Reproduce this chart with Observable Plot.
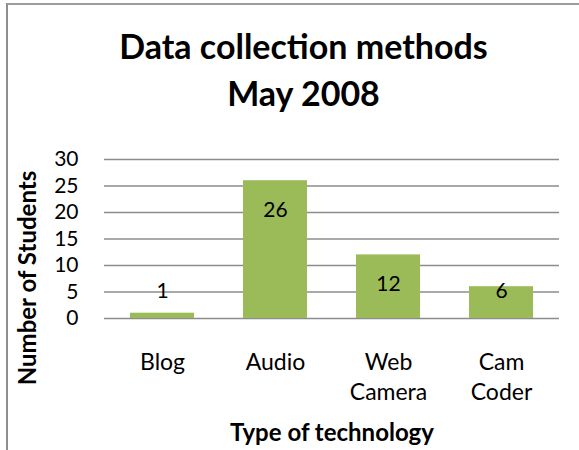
<!DOCTYPE html>
<html>
<head>
<meta charset="utf-8">
<script src="https://cdn.jsdelivr.net/npm/d3@7"></script>
<script src="https://cdn.jsdelivr.net/npm/@observablehq/plot@0.6"></script>
<style>
  html, body { margin: 0; padding: 0; background: #fff; }
  #wrap { position: relative; width: 579px; height: 450px; overflow: hidden; font-family: Lato, "DejaVu Sans", sans-serif; }
  #frame { position: absolute; left: 6px; top: 3px; width: 700px; height: 600px;
           border-left: 2px solid #8e8e8e; border-top: 2px solid #9c9c9c; box-sizing: border-box; }
  #title { position: absolute; left: 0; top: 21.6px; width: 607px; text-align: center;
           font-weight: bold; font-size: 34px; line-height: 47px; color: #000; }
  #plot { position: absolute; left: 0; top: 0; }
</style>
</head>
<body>
<div id="wrap">
  <div id="frame"></div>
  <div id="title"></div>
  <div id="plot"></div>
</div>
<script>
const titleLines = ["Data collection methods", "May 2008"];
const categories = ["Blog", "Audio", "Web Camera", "Cam Coder"];
const tickLabels = ["Blog", "Audio", "Web\nCamera", "Cam\nCoder"];
const students = [1, 26, 12, 6];
const yTicks = [0, 5, 10, 15, 20, 25, 30];
const yTitle = "Number of Students";
const xTitle = "Type of technology";

const data = categories.map((c, i) => ({category: c, label: tickLabels[i], value: students[i]}));

document.getElementById("title").innerHTML = titleLines.join("<br>");

const gridColor = "#8c8c8c";

const chart = Plot.plot({
  width: 579,
  height: 450,
  marginTop: 159,
  marginBottom: 132,
  marginLeft: 104,
  marginRight: 20,
  style: {fontFamily: "Lato, 'DejaVu Sans', sans-serif", fontSize: "21px", color: "#000", background: "transparent"},
  x: {domain: categories, paddingInner: 0.43, paddingOuter: 0.215, axis: null},
  y: {domain: [0, 30], axis: null},
  marks: [
    Plot.gridY(yTicks, {stroke: gridColor, strokeOpacity: 1, strokeWidth: 1.5}),
    Plot.axisY({ticks: yTicks, tickSize: 0, tickPadding: 26, line: true, stroke: gridColor, strokeWidth: 1.5, fill: "#000", fontSize: 21, label: null}),
    Plot.barY(data, {x: "category", y: "value", fill: "#9bbb59"}),
    Plot.text(data, {x: "category", y: d => Math.max(d.value, 10.75), dy: 29.5, text: d => String(d.value),
                     lineAnchor: "middle", fontSize: 21, fill: "#000"}),
    Plot.text(data, {x: "category", text: "label", frameAnchor: "bottom", lineAnchor: "top", dy: 30,
                     lineHeight: 30 / 23, fontSize: 23, fill: "#000"}),
    Plot.text([xTitle], {text: d => d, frameAnchor: "bottom", lineAnchor: "bottom", dy: 122,
                         fontSize: 24, fontWeight: "bold", fill: "#000"}),
    Plot.text([yTitle], {text: d => d, frameAnchor: "left", rotate: -90, textAnchor: "middle", lineAnchor: "bottom",
                         dx: -69, dy: 39, fontSize: 24, fontWeight: "bold", fill: "#000"})
  ]
});
document.getElementById("plot").appendChild(chart);
</script>
</body>
</html>
